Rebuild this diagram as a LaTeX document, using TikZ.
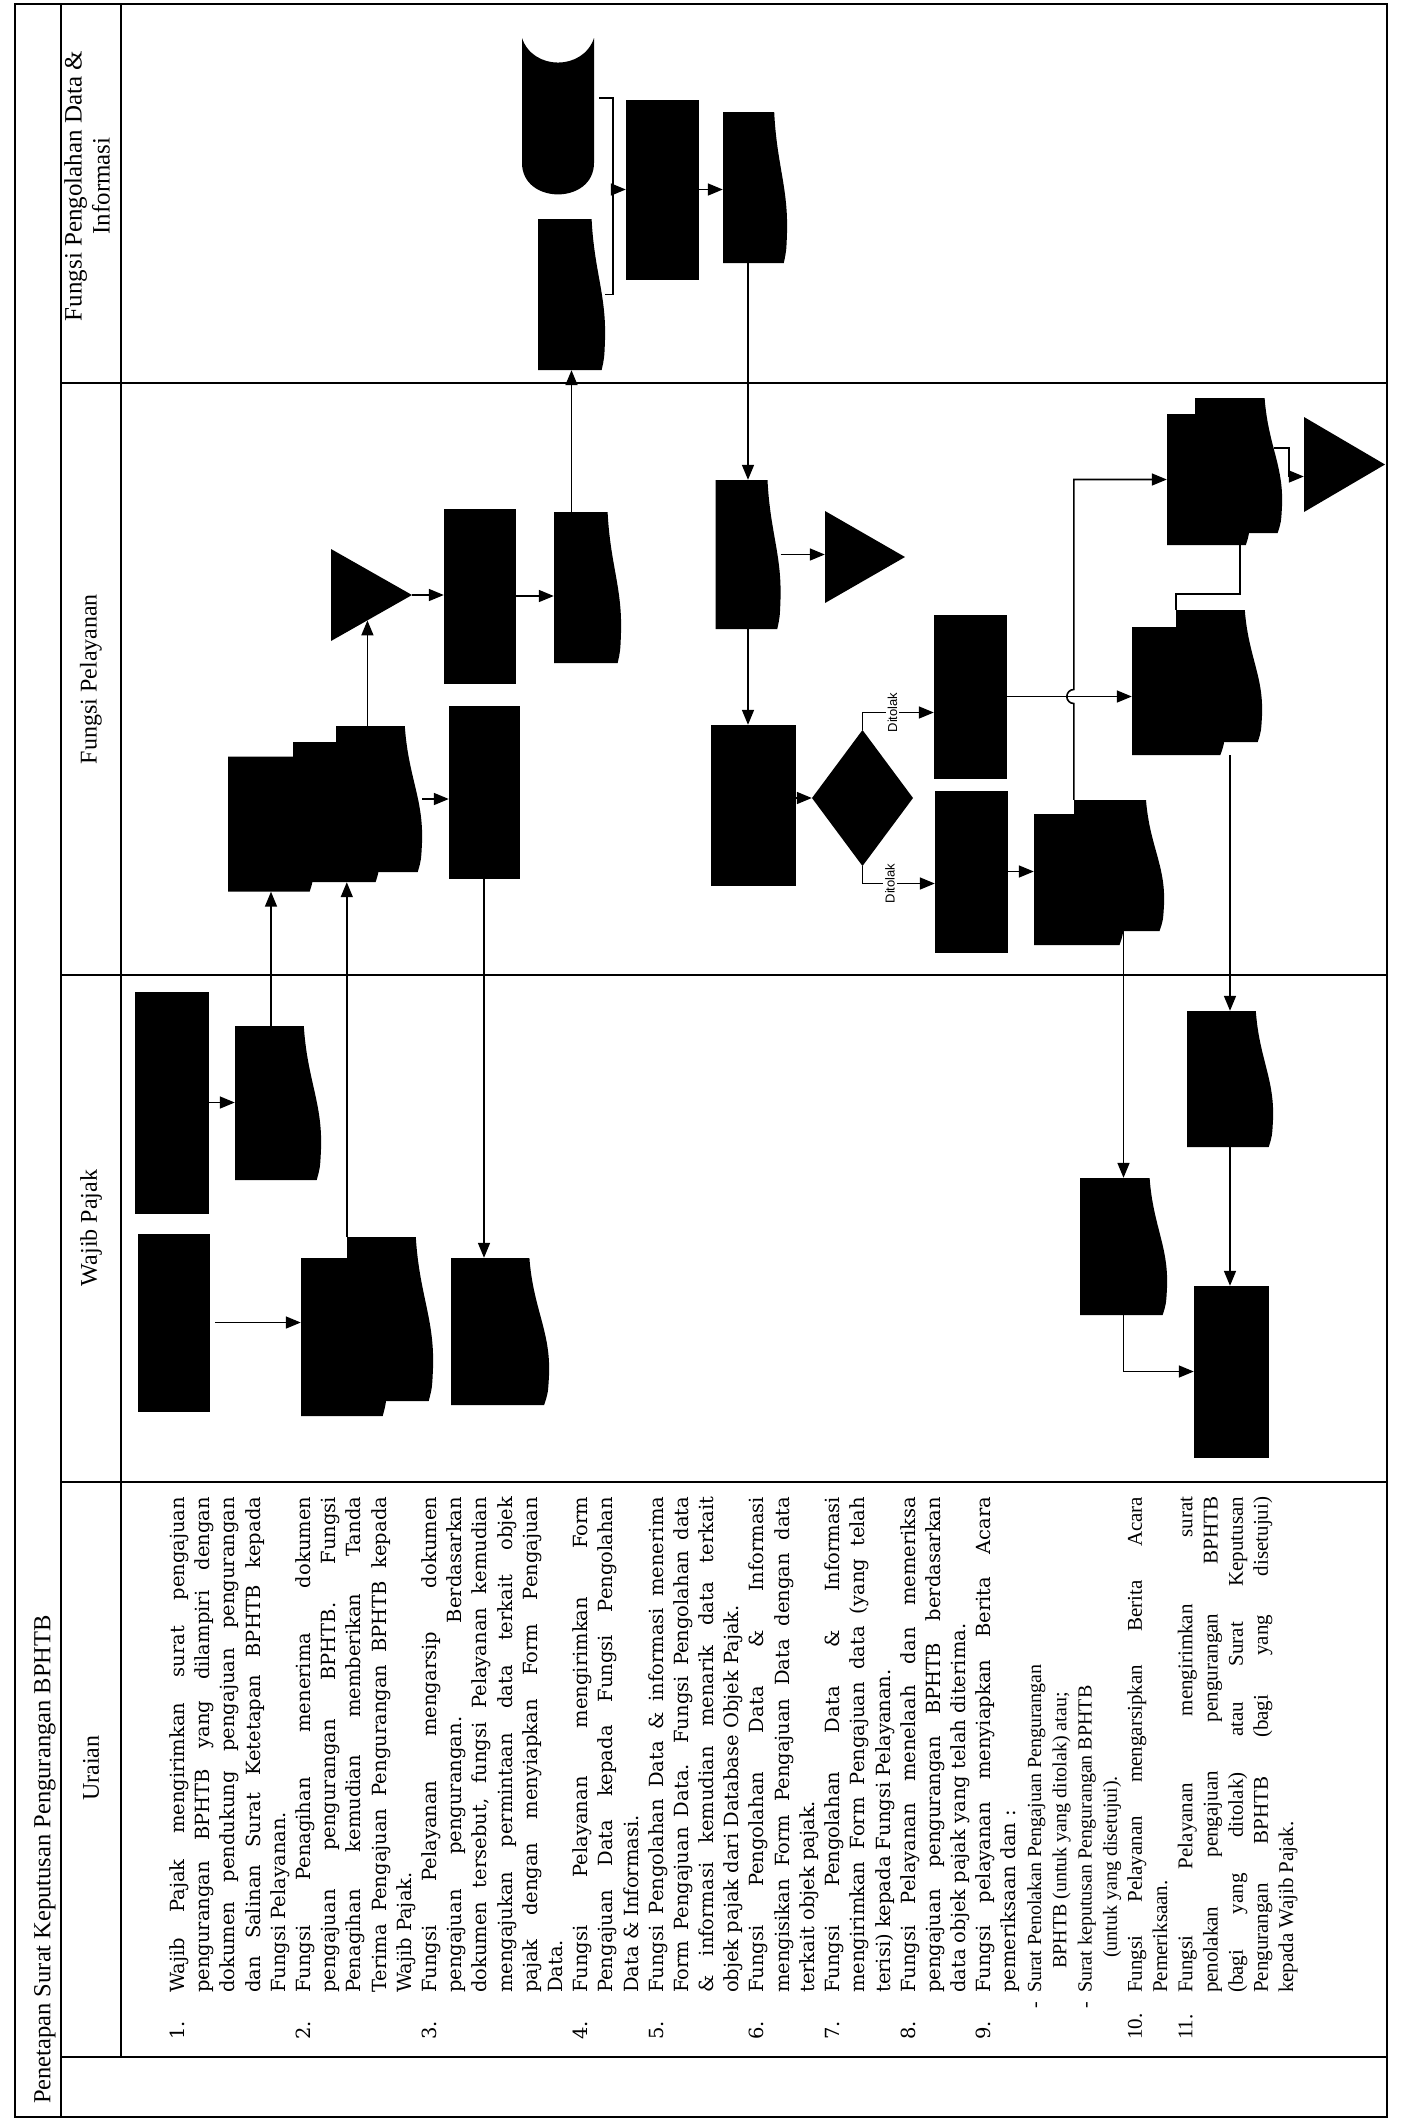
\documentclass[tikz,border=0pt]{standalone}
\usepackage{fontspec}
\setmainfont{Liberation Serif}
\setsansfont{Liberation Sans}
\newfontfamily\bookman{DejaVu Serif}
\usetikzlibrary{calc,arrows.meta}

\newlength{\lebarnomor}
\setlength{\lebarnomor}{47pt}
\newcommand{\butir}[2]{\par\hangindent=\lebarnomor\hangafter=0\noindent
  \llap{\makebox[\lebarnomor][l]{#1}}#2\par}
\newcommand{\subbutir}[2]{\par\hangindent=\lebarnomor\hangafter=0\noindent
  \hspace*{#1}#2\par}

\begin{document}
\begin{tikzpicture}[x=1pt, y=-1pt,
  tabel/.style={line width=1.8pt},
  garis/.style={line width=1.6pt},
  panah/.style={garis, -{Triangle[length=15pt,width=12pt]}},
  judul/.style={rotate=90, inner sep=0pt, font=\fontsize{24}{28}\selectfont},
  uraian/.style={rotate=90, inner sep=0pt, text width=543pt, align=justify,
    font=\bookman\fontsize{19.5}{25.2}\selectfont},
  ditolak/.style={rotate=90, fill=white, inner sep=2pt,
    font=\sffamily\fontsize{13}{13}\selectfont},
  proses/.style 2 args={rectangle, fill=black, draw=black, inner sep=0pt,
    minimum width=#1, minimum height=#2},
  dok/.style 2 args={rectangle, inner sep=0pt, minimum width=#1, minimum height=#2,
    path picture={\fill let \p1=(path picture bounding box.north west),
      \p2=(path picture bounding box.south east) in
      (\x1,\y1) -- ({\x1+0.8*(\x2-\x1)},\y1)
      .. controls ({\x1+0.84*(\x2-\x1)},{\y1-0.35*(\y1-\y2)})
      and ({\x1+1.02*(\x2-\x1)},{\y1-0.5*(\y1-\y2)}) .. (\x2,{\y1-0.8*(\y1-\y2)})
      .. controls ({\x2-0.01*(\x2-\x1)},{\y1-0.92*(\y1-\y2)}) .. ({\x1+0.95*(\x2-\x1)},\y2)
      -- (\x1,\y2) -- cycle;}},
  arsip/.style 2 args={rectangle, inner sep=0pt, minimum width=#1, minimum height=#2,
    path picture={\fill (path picture bounding box.north west)
      -- (path picture bounding box.east)
      -- (path picture bounding box.south west) -- cycle;}},
  keputusan/.style 2 args={rectangle, inner sep=0pt, minimum width=#1, minimum height=#2,
    path picture={\fill (path picture bounding box.north)
      -- (path picture bounding box.east) -- (path picture bounding box.south)
      -- (path picture bounding box.west) -- cycle;}},
  basisdata/.style 2 args={rectangle, inner sep=0pt, minimum width=#1, minimum height=#2,
    path picture={\fill let \p1=(path picture bounding box.north west),
      \p2=(path picture bounding box.south east) in
      (\x1,\y1) .. controls ({\x1+0.15*(\x2-\x1)},{\y1-0.21*(\y1-\y2)})
      and ({\x1+0.85*(\x2-\x1)},{\y1-0.21*(\y1-\y2)}) .. (\x2,\y1)
      -- (\x2,{\y1-0.8*(\y1-\y2)})
      .. controls (\x2,{\y1-1.07*(\y1-\y2)}) and (\x1,{\y1-1.07*(\y1-\y2)})
      .. (\x1,{\y1-0.8*(\y1-\y2)}) -- cycle;}}
]
\useasboundingbox (0,0) rectangle (1402,2121);

% Tabel
\draw[tabel] (15,4) rectangle (1387,2117);
\draw[tabel] (61,4) -- (61,2117);
\draw[tabel] (121,4) -- (121,2057);
\foreach \y in {383,975,1482,2057}
  \draw[tabel] (61,\y) -- (1387,\y);

\node[judul, anchor=west, font=\fontsize{24.5}{28}\selectfont] (judul) at (45,2104)
  {Penetapan Surat Keputusan Pengurangan BPHTB};
\node[judul] (hUraian) at (91,1768) {Uraian};
\node[judul] (hWajib) at (91,1228) {Wajib Pajak};
\node[judul] (hLayanan) at (91,679) {Fungsi Pelayanan};
\node[judul, align=center, font=\fontsize{25}{28}\selectfont] (hOlah) at (87,186)
  {Fungsi Pengolahan Data \&\\ Informasi};

% Fungsi Pengolahan Data & Informasi
\node[basisdata={72pt}{156pt}] (c0) at (558,116) {};
\node[dok={67pt}{151pt}] (c1) at (571.5,294.5) {};
\node[proses={72pt}{179pt}] (c2) at (662,189.5) {};
\node[dok={64pt}{151pt}] (c3) at (755,187.5) {};

% Fungsi Pelayanan
\node[dok={86pt}{135pt}] (b1a) at (271,824) {};
\node[dok={87pt}{140pt}] (b1b) at (336.5,812) {};
\node[dok={86pt}{146pt}] (b1c) at (379,799) {};
\node[arsip={81pt}{92pt}] (b2) at (371.5,595) {};
\node[proses={71pt}{174pt}] (b3) at (479.5,596) {};
\node[proses={70pt}{172pt}] (b4) at (484,792) {};
\node[dok={67pt}{151pt}] (b5) at (587.5,587.5) {};
\node[dok={65pt}{149pt}] (b6) at (748,554.5) {};
\node[arsip={80pt}{92pt}] (b7) at (865,557) {};
\node[proses={84pt}{160pt}] (b8) at (753,805) {};
\node[keputusan={101pt}{136pt}] (b9) at (862.5,798) {};
\node[proses={72pt}{163pt}] (b10) at (970,696.5) {};
\node[proses={72pt}{161pt}] (b11) at (971,871.5) {};
\node[dok={90pt}{131pt}] (b12b) at (1119,865.5) {};
\node[dok={90pt}{131pt}] (b12a) at (1079,879.5) {};
\node[dok={87pt}{135pt}] (b13b) at (1238.5,465.5) {};
\node[dok={83pt}{131pt}] (b13a) at (1208.5,479.5) {};
\node[dok={86pt}{132pt}] (b14b) at (1219,676) {};
\node[dok={93pt}{128pt}] (b14a) at (1178.5,691) {};
\node[arsip={81pt}{95pt}] (b15) at (1344.5,464.5) {};

% Wajib Pajak
\node[proses={73pt}{221pt}] (a1) at (171.5,1102.5) {};
\node[dok={86pt}{154pt}] (a2) at (278,1103) {};
\node[proses={71pt}{177pt}] (a3) at (173.5,1322.5) {};
\node[dok={86pt}{164pt}] (a4b) at (390,1319) {};
\node[dok={86pt}{158pt}] (a4a) at (344,1337) {};
\node[dok={98pt}{147pt}] (a5) at (500,1331.5) {};
\node[dok={86pt}{136pt}] (d1) at (1230,1079) {};
\node[dok={87pt}{137pt}] (d2) at (1123.5,1246.5) {};
\node[proses={74pt}{171pt}] (d3) at (1231,1371.5) {};

% Alur
\draw[panah] (a1.east) -- (a1.east -| a2.west);
\draw[panah] ($(a3.east)+(6,0)$) -- (a3.east -| a4a.west);
\draw[panah] (b1a.south |- a2.north) -- (b1a.south);
\draw[panah] (a4b.north west) -- (a4b.north west |- b1b.south);
\coordinate (b2-masuk) at ($(b2.south west)!0.45!(b2.east)$);
\draw[panah] (b1c.north -| b2-masuk) -- (b2-masuk);
\draw[panah] (b1c.east) -- (b1c.east -| b4.west);
\draw[panah] (b2.east) -- (b2.east -| b3.west);
\draw[panah] (b3.east) -- (b3.east -| b5.west);
\draw[panah] (b4.south) -- (b4.south |- a5.north);
\draw[panah] (c1.south |- b5.north) -- (c1.south);
\coordinate (gabung) at ($(c2.west)+(-13,0)$);
\draw[garis] ($(c0.north east)+(5,60)$) -| (gabung) |- (c1.east);
\draw[panah] (gabung) -- (c2.west);
\draw[panah] (c2.east) -- (c2.east -| c3.west);
\draw[panah] (b6.north |- c3.south) -- (b6.north);
\draw[panah] (b6.east) -- (b6.east -| b7.west);
\draw[panah] (b6.south) -- (b6.south |- b8.north);
\draw[panah] (b8.east |- b9.west) -- (b9.west);
\draw[panah] (b9.north) |- node[ditolak, pos=0.71] {Ditolak} ($(b10.west)+(0,16)$);
\draw[panah] (b9.south) |- node[ditolak, pos=0.69] {Ditolak} ($(b11.west)+(0,12)$);
\draw[panah] (b10.east) -- (b10.east -| b14a.west);
\draw[panah] (b11.east) -- (b11.east -| b12a.west);
\draw[panah] (b12b.north west) -- ($(b12b.north west |- b10.east)+(0,7)$)
  arc[start angle=270, end angle=90, radius=7pt] |- (b13a.west);
\draw[garis] (b14b.north west) -- ++(0,-16) -| ($(b13a.south east)+(-10,0)$);
\draw[panah] ($(b13b.north east)+(-8,50)$) -- ++(15,0) |- ($(b15.west)+(0,12)$);
\draw[panah] (d1.north |- b14a.south) -- (d1.north);
\draw[panah] (d2.north |- b12b.south) -- (d2.north);
\draw[panah] (d1.south) -- (d1.south |- d3.north);
\draw[panah] (d2.south) |- (d3.west);

% Uraian
\node[uraian, anchor=north west] (teks) at (159,2040) {%
\butir{1.}{Wajib Pajak mengirimkan surat pengajuan\linebreak
pengurangan BPHTB yang dilampiri dengan\linebreak
dokumen pendukung pengajuan pengurangan\linebreak
dan Salinan Surat Ketetapan BPHTB kepada\linebreak
Fungsi Pelayanan.}
\butir{2.}{Fungsi Penagihan menerima dokumen\linebreak
pengajuan pengurangan BPHTB. Fungsi\linebreak
Penagihan kemudian memberikan Tanda\linebreak
Terima Pengajuan Pengurangan BPHTB kepada\linebreak
Wajib Pajak.}
\butir{3.}{Fungsi Pelayanan mengarsip dokumen\linebreak
pengajuan pengurangan. Berdasarkan\linebreak
dokumen tersebut, fungsi Pelayanan kemudian\linebreak
mengajukan permintaan data terkait objek\linebreak
pajak dengan menyiapkan Form Pengajuan\linebreak
Data.}
\butir{4.}{Fungsi Pelayanan mengirimkan Form\linebreak
Pengajuan Data kepada Fungsi Pengolahan\linebreak
Data \& Informasi.}
\butir{5.}{Fungsi Pengolahan Data \& informasi menerima\linebreak
Form Pengajuan Data. Fungsi Pengolahan data\linebreak
\& informasi kemudian menarik data terkait\linebreak
objek pajak dari Database Objek Pajak.}
\butir{6.}{Fungsi Pengolahan Data \& Informasi\linebreak
mengisikan Form Pengajuan Data dengan data\linebreak
terkait objek pajak.}
\butir{7.}{Fungsi Pengolahan Data \& Informasi\linebreak
mengirimkan Form Pengajuan data (yang telah\linebreak
terisi) kepada Fungsi Pelayanan.}
\butir{8.}{Fungsi Pelayanan menelaah dan memeriksa\linebreak
pengajuan pengurangan BPHTB berdasarkan\linebreak
data objek pajak yang telah diterima.}
\butir{9.}{Fungsi pelayanan menyiapkan Berita Acara\linebreak
pemeriksaan dan :}
{\rmfamily\fontsize{20}{25.2}\selectfont
\subbutir{0pt}{\llap{-\hspace{9pt}}Surat Penolakan Pengajuan Pengurangan}
\subbutir{24pt}{BPHTB (untuk yang ditolak) atau;}
\subbutir{0pt}{\llap{-\hspace{9pt}}Surat keputusan Pengurangan BPHTB}
\subbutir{35pt}{(untuk yang disetujui).}}
{\rmfamily\fontsize{21}{25.2}\selectfont
\butir{10.}{Fungsi Pelayanan mengarsipkan Berita Acara\linebreak
Pemeriksaan.}
\butir{11.}{Fungsi Pelayanan mengirimkan surat\linebreak
penolakan pengajuan pengurangan BPHTB\linebreak
(bagi yang ditolak) atau Surat Keputusan\linebreak
Pengurangan BPHTB (bagi yang disetujui)\linebreak
kepada Wajib Pajak.}}
};

\end{tikzpicture}
\end{document}
